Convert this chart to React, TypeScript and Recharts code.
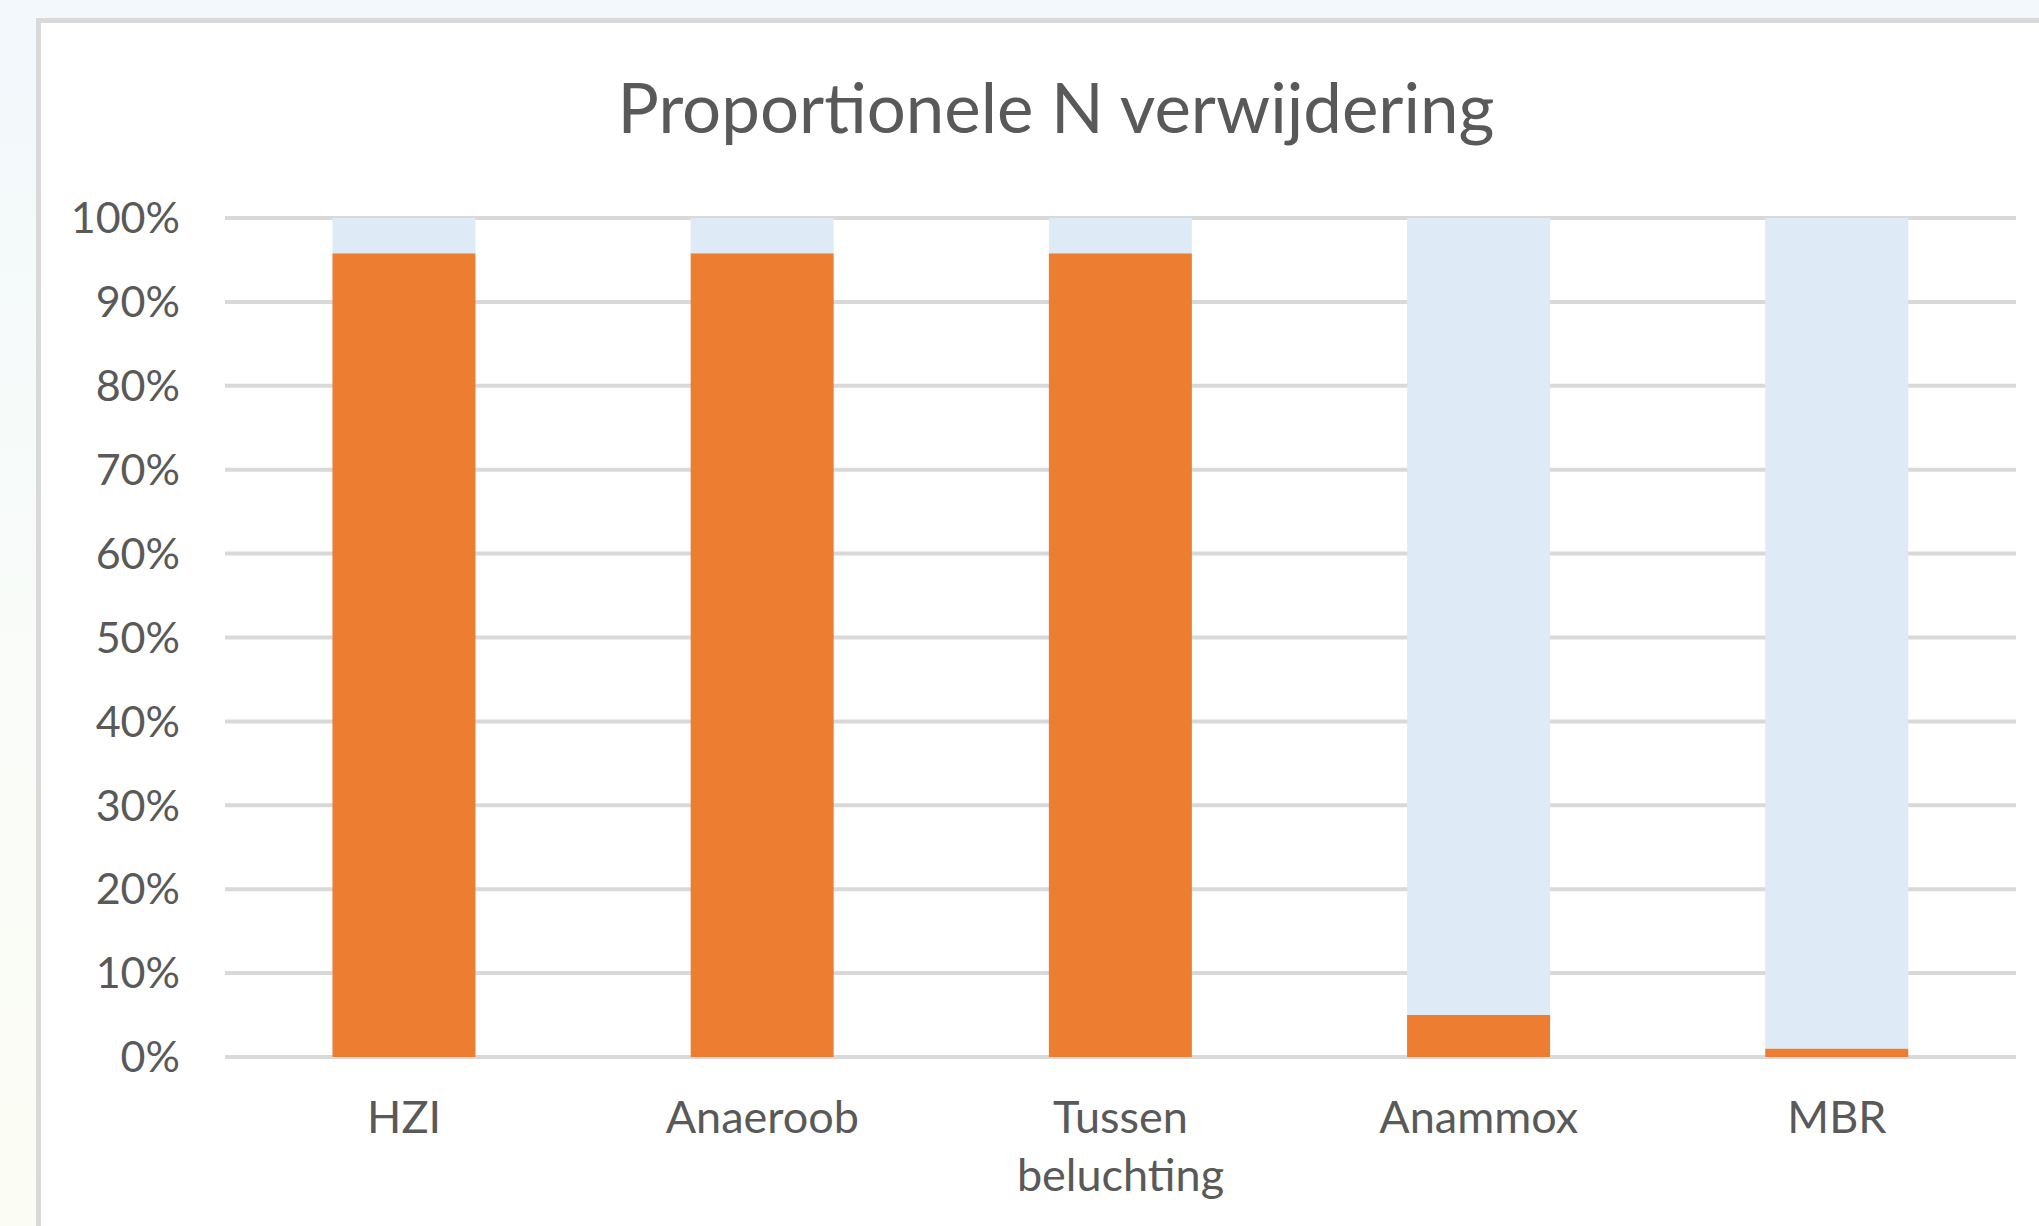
import React from "react";
import { BarChart, Bar, XAxis, YAxis, CartesianGrid } from "recharts";

const categories = ["HZI", "Anaeroob", "Tussen beluchting", "Anammox", "MBR"];
const removedShare = [95.8, 95.8, 95.8, 5.0, 1.0];
const remainingShare = [4.2, 4.2, 4.2, 95.0, 99.0];
const yTicks = [0, 10, 20, 30, 40, 50, 60, 70, 80, 90, 100];
const title = "Proportionele N verwijdering";

const data = categories.map((name, i) => ({
  name,
  removed: removedShare[i],
  remaining: remainingShare[i],
}));

const FONT = "Lato, 'Open Sans', sans-serif";
const TEXT_COLOR = "#595959";

const XTick = (props: any) => {
  const { x, y, payload } = props;
  const lines = String(payload.value).split(" ");
  return (
    <text
      x={x}
      y={y}
      textAnchor="middle"
      fill={TEXT_COLOR}
      fontFamily={FONT}
      fontSize={45}
    >
      {lines.map((l: string, i: number) => (
        <tspan key={i} x={x} dy={i === 0 ? 31 : 58}>
          {l}
        </tspan>
      ))}
    </text>
  );
};

export default function App() {
  return (
    <div
      style={{
        position: "absolute",
        left: 0,
        top: 0,
        width: 2039,
        height: 1226,
        overflow: "hidden",
        background: "linear-gradient(to bottom, #f2f8fc 0%, #f8fbf8 50%, #fbfdf4 100%)",
      }}
    >
      <div
        style={{
          position: "absolute",
          left: 36,
          top: 18,
          width: 2100,
          height: 1300,
          background: "#ffffff",
          border: "5px solid #d9d9d9",
          boxSizing: "border-box",
        }}
      />
      <svg
        width={2039}
        height={1226}
        style={{ position: "absolute", left: 0, top: 0 }}
      >
        <text
          x={1056}
          y={133}
          textAnchor="middle"
          fill={TEXT_COLOR}
          fontFamily={FONT}
          fontSize={69}
        >
          {title}
        </text>
      </svg>
      <div style={{ position: "absolute", left: 0, top: 0 }}>
        <BarChart
          width={2039}
          height={1226}
          data={data}
          margin={{ top: 218, right: 23, bottom: 139, left: 0 }}
          barCategoryGap="30%"
        >
          <CartesianGrid
            vertical={false}
            stroke="#d9d9d9"
            strokeWidth={4}
          />
          <XAxis
            dataKey="name"
            height={30}
            axisLine={false}
            tickLine={false}
            tickSize={0}
            tickMargin={45}
            tick={<XTick />}
            interval={0}
          />
          <YAxis
            width={225}
            domain={[0, 100]}
            ticks={yTicks}
            axisLine={false}
            tickLine={false}
            tickSize={0}
            tickMargin={45}
            tickFormatter={(v: number) => `${v}%`}
            tick={{ fill: TEXT_COLOR, fontSize: 43, fontFamily: FONT }}
          />
          <Bar
            dataKey="removed"
            stackId="a"
            fill="#ed7d31"
            isAnimationActive={false}
          />
          <Bar
            dataKey="remaining"
            stackId="a"
            fill="#deeaf6"
            isAnimationActive={false}
          />
        </BarChart>
      </div>
    </div>
  );
}
